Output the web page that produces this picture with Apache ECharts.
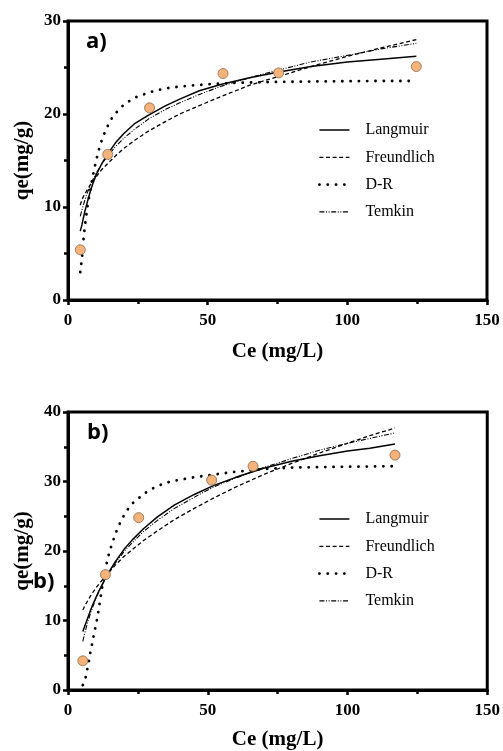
<!DOCTYPE html>
<html>
<head>
<meta charset="utf-8">
<script src="https://cdn.jsdelivr.net/npm/echarts@6/dist/echarts.min.js"></script>
<style>
html,body{margin:0;padding:0;background:#fff;}
#main{width:503px;height:751px;}
</style>
</head>
<body>
<div id="main"></div>
<script>
// ---- Panel a) ----
const ceA = [4.4, 14.2, 29.2, 55.5, 75.4, 124.7];
const qeA = [5.4, 15.65, 20.66, 24.35, 24.42, 25.1];
const fitXA = [4.4, 5, 6, 7, 8, 9, 10, 12, 14, 17, 20, 24, 29, 35, 40, 47, 55, 65, 75, 87, 100, 112, 124.7];
const langA = [7.4, 8.1, 9.5, 10.6, 11.7, 12.6, 13.4, 14.6, 15.6, 16.9, 17.9, 19.0, 19.9, 20.9, 21.6, 22.5, 23.2, 23.9, 24.5, 25.1, 25.6, 25.9, 26.2];
const freuA = [10.2, 10.8, 11.4, 11.9, 12.4, 12.8, 13.2, 14.0, 14.6, 15.5, 16.3, 17.2, 18.2, 19.2, 20.0, 20.9, 21.9, 23.1, 24.0, 25.1, 26.2, 27.1, 28.0];
const temkA = [9.0, 9.7, 10.7, 11.6, 12.3, 13.0, 13.6, 14.6, 15.4, 16.5, 17.4, 18.4, 19.5, 20.5, 21.2, 22.1, 23.0, 23.9, 24.7, 25.6, 26.3, 27.0, 27.6];
const drXA = [4.4, 5, 5.5, 6, 6.5, 7, 7.5, 8, 8.5, 9, 10, 11, 12, 13, 14.5, 16, 18, 20, 22.5, 25, 28, 31, 36, 40, 50, 60, 75, 90, 110, 124.7];
const drA = [3.0, 4.5, 6.4, 7.8, 9.0, 10.1, 11.0, 11.9, 12.7, 13.5, 14.9, 16.1, 17.1, 17.9, 18.9, 19.7, 20.4, 21.0, 21.5, 21.9, 22.2, 22.5, 22.8, 22.95, 23.2, 23.35, 23.45, 23.5, 23.55, 23.55];

// ---- Panel b) ----
const ceB = [5.3, 13.4, 25.3, 51.4, 66.2, 117.0];
const qeB = [4.2, 16.6, 24.8, 30.2, 32.2, 33.8];
const fitXB = [5.3, 6, 7, 8, 9, 10, 11, 12, 13.4, 15, 17, 20, 23, 27, 32, 38, 45, 52, 60, 70, 80, 90, 100, 108, 117];
const langB = [8.4, 9.2, 10.3, 11.4, 12.4, 13.3, 14.2, 15.0, 16.1, 17.2, 18.5, 20.2, 21.6, 23.2, 24.9, 26.6, 28.1, 29.4, 30.6, 31.9, 32.9, 33.7, 34.4, 34.8, 35.4];
const freuB = [11.5, 12.1, 12.8, 13.5, 14.1, 14.7, 15.2, 15.7, 16.4, 17.1, 18.0, 19.2, 20.2, 21.5, 22.9, 24.5, 26.1, 27.6, 29.2, 31.0, 32.6, 34.1, 35.5, 36.6, 37.7];
const temkB = [7.0, 8.2, 9.7, 11.0, 12.1, 13.2, 14.1, 14.9, 16.0, 17.1, 18.3, 19.9, 21.2, 22.8, 24.4, 26.1, 27.7, 29.2, 30.5, 32.0, 33.3, 34.5, 35.5, 36.2, 37.0];
const drXB = [5.3, 6.3, 6.9, 7.5, 8, 8.6, 9.2, 9.8, 10.4, 10.9, 11.5, 12.3, 13, 13.7, 14.6, 15.5, 16.4, 17.5, 18.8, 20, 21.4, 23.2, 25.3, 27.4, 29.8, 32.4, 35, 38, 45, 52, 60, 70, 80, 95, 117];
const drB = [0.7, 1.8, 3.0, 4.2, 5.4, 6.6, 7.8, 9.0, 10.2, 11.4, 13.0, 15.0, 16.6, 18.0, 19.5, 20.7, 21.8, 23.0, 24.2, 25.1, 26.0, 26.9, 27.6, 28.3, 28.9, 29.4, 29.8, 30.1, 30.6, 31.0, 31.4, 31.8, 32.0, 32.1, 32.2];

const modelNames = ['Langmuir', 'Freundlich', 'D-R', 'Temkin'];
const xTicks = [0, 50, 100, 150];
const xTitle = 'Ce (mg/L)';
const yTitle = 'qe(mg/g)';

const zip = (xs, ys) => xs.map((x, i) => [x, ys[i]]);
const serif = 'Liberation Serif, Times New Roman, serif';
const panelFont = 'bold 22px "Open Sans", "Noto Sans", sans-serif';

const styles = {
  'Langmuir': { color: '#000', width: 1.5, type: 'solid' },
  'Freundlich': { color: '#000', width: 1.3, type: [4, 2.6] },
  'D-R': { color: '#000', width: 2.8, type: [0.1, 8.2], cap: 'round' },
  'Temkin': { color: '#000', width: 1.1, type: [5, 1.6, 1, 1.6, 1, 1.6] }
};

function lineSeries(name, data, gi) {
  return {
    name: name, type: 'line', xAxisIndex: gi, yAxisIndex: gi,
    data: data, showSymbol: false, symbol: 'none',
    smooth: false,
    lineStyle: styles[name], itemStyle: { color: '#000' },
    z: 2, silent: true
  };
}
function scatterSeries(data, gi) {
  return {
    name: 'data' + gi, type: 'scatter', xAxisIndex: gi, yAxisIndex: gi,
    data: data, symbol: 'circle', symbolSize: 10,
    itemStyle: { color: '#F4B37A', borderColor: '#8A6A4C', borderWidth: 0.8, opacity: 1 },
    z: 5
  };
}

function xAxisCfg(gi, gap) {
  return {
    gridIndex: gi, type: 'value', min: 0, max: 150, interval: 50,
    name: xTitle, nameLocation: 'middle', nameGap: gap,
    nameTextStyle: { fontFamily: serif, fontWeight: 'bold', fontSize: 21, color: '#000' },
    axisLine: { show: true, lineStyle: { color: '#000', width: 3 } },
    axisTick: { show: true, inside: false, length: 5, lineStyle: { color: '#000', width: 2.5 } },
    minorTick: { show: true, splitNumber: 2, length: 4, lineStyle: { color: '#000', width: 2.5 } },
    axisLabel: { fontFamily: serif, fontWeight: 'bold', fontSize: 17, color: '#000', margin: 12,
      formatter: v => xTicks.includes(v) ? String(v) : '' },
    splitLine: { show: false }, minorSplitLine: { show: false }
  };
}
function yAxisCfg(gi, max) {
  return {
    gridIndex: gi, type: 'value', min: 0, max: max, interval: 10,
    name: yTitle, nameLocation: 'middle', nameGap: 34,
    nameTextStyle: { fontFamily: serif, fontWeight: 'bold', fontSize: 21, color: '#000' },
    axisLine: { show: true, lineStyle: { color: '#000', width: 3 } },
    axisTick: { show: true, inside: false, length: 5, lineStyle: { color: '#000', width: 2.5 } },
    minorTick: { show: true, splitNumber: 2, length: 4, lineStyle: { color: '#000', width: 2.5 } },
    axisLabel: { fontFamily: serif, fontWeight: 'bold', fontSize: 17, color: '#000', margin: 7 },
    splitLine: { show: false }, minorSplitLine: { show: false }
  };
}
function legendCfg(top) {
  return {
    data: modelNames, orient: 'vertical', left: 318, top: top, padding: 0,
    itemWidth: 30, itemHeight: 10, itemGap: 11.3,
    selectedMode: false,
    itemStyle: { color: 'rgba(0,0,0,0)', borderWidth: 0, opacity: 0 },
    lineStyle: { width: 'inherit' },
    textStyle: { fontFamily: serif, fontSize: 16, color: '#000', lineHeight: 16, padding: [0, 0, 0, 11] }
  };
}

const chart = echarts.init(document.getElementById('main'), null, { renderer: 'canvas' });
chart.setOption({
  backgroundColor: '#fff',
  animation: false,
  grid: [
    { left: 68, top: 21, width: 419, height: 279, show: true, borderColor: '#000', borderWidth: 3, backgroundColor: 'transparent' },
    { left: 68, top: 412, width: 421, height: 278, show: true, borderColor: '#000', borderWidth: 3, backgroundColor: 'transparent' }
  ],
  xAxis: [xAxisCfg(0, 41), xAxisCfg(1, 39)],
  yAxis: [yAxisCfg(0, 30), yAxisCfg(1, 40)],
  legend: [legendCfg(122), legendCfg(511)],
  graphic: [
    { type: 'text', left: 86, top: 31, style: { text: 'a)', font: panelFont, fill: '#000' } },
    { type: 'text', left: 87, top: 422, style: { text: 'b)', font: panelFont, fill: '#000' } },
    { type: 'text', left: 33, top: 571, style: { text: 'b)', font: panelFont, fill: '#000' } }
  ],
  series: [
    lineSeries('Langmuir', zip(fitXA, langA), 0),
    lineSeries('Freundlich', zip(fitXA, freuA), 0),
    lineSeries('D-R', zip(drXA, drA), 0),
    lineSeries('Temkin', zip(fitXA, temkA), 0),
    scatterSeries(zip(ceA, qeA), 0),
    lineSeries('Langmuir', zip(fitXB, langB), 1),
    lineSeries('Freundlich', zip(fitXB, freuB), 1),
    lineSeries('D-R', zip(drXB, drB), 1),
    lineSeries('Temkin', zip(fitXB, temkB), 1),
    scatterSeries(zip(ceB, qeB), 1)
  ]
});
</script>
</body>
</html>
